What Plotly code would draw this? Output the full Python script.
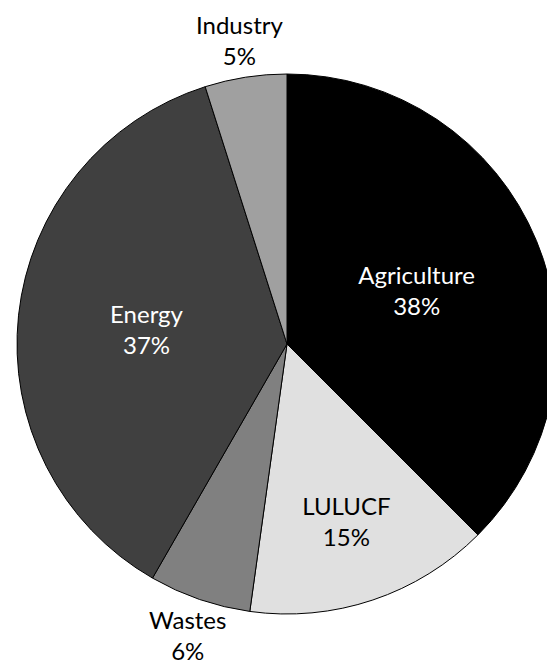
import math
import plotly.graph_objects as go

labels = ["Agriculture", "LULUCF", "Wastes", "Energy", "Industry"]
values = [37.5, 14.7, 6.1, 36.8, 4.9]
pct_text = ["38%", "15%", "6%", "37%", "5%"]
colors = ["#000000", "#e0e0e0", "#808080", "#404040", "#a0a0a0"]
text_colors = ["#ffffff", "#000000", "#000000", "#ffffff", "#000000"]
outside = [False, False, True, False, True]

W, H = 555, 669
ML, MR, MT, MB = 9, 6, 66, 63
FONT = "Lato"
FS = 24

positions = ["none" if o else "inside" for o in outside]

fig = go.Figure(go.Pie(
    labels=labels,
    values=values,
    text=pct_text,
    texttemplate="%{label}<br>%{text}",
    textposition=positions,
    insidetextorientation="horizontal",
    sort=False,
    direction="clockwise",
    rotation=0,
    marker=dict(colors=colors, line=dict(color="#000000", width=1)),
    insidetextfont=dict(color=text_colors, size=FS, family=FONT),
    hoverinfo="label+percent",
))

# outside labels placed along each slice's mid-angle, just beyond the rim
pw, ph = W - ML - MR, H - MT - MB
R = min(pw, ph) / 2
total = sum(values)
cum = 0.0
annotations = []
for lab, v, t, o in zip(labels, values, pct_text, outside):
    mid = (cum + v / 2) / total * 2 * math.pi
    cum += v
    if not o:
        continue
    r = R * 1.14
    dx = r * math.sin(mid)
    dy = r * math.cos(mid)
    annotations.append(dict(
        x=0.5 + dx / pw, y=0.5 + dy / ph, xref="paper", yref="paper",
        text=f"{lab}<br>{t}", showarrow=False,
        xanchor="center", yanchor="middle",
        font=dict(family=FONT, size=FS, color="#000000"),
    ))

fig.update_layout(
    width=W, height=H,
    margin=dict(l=ML, r=MR, t=MT, b=MB),
    showlegend=False,
    paper_bgcolor="white",
    font=dict(family=FONT, size=FS, color="#000000"),
    annotations=annotations,
)
fig.write_html("out.html")
